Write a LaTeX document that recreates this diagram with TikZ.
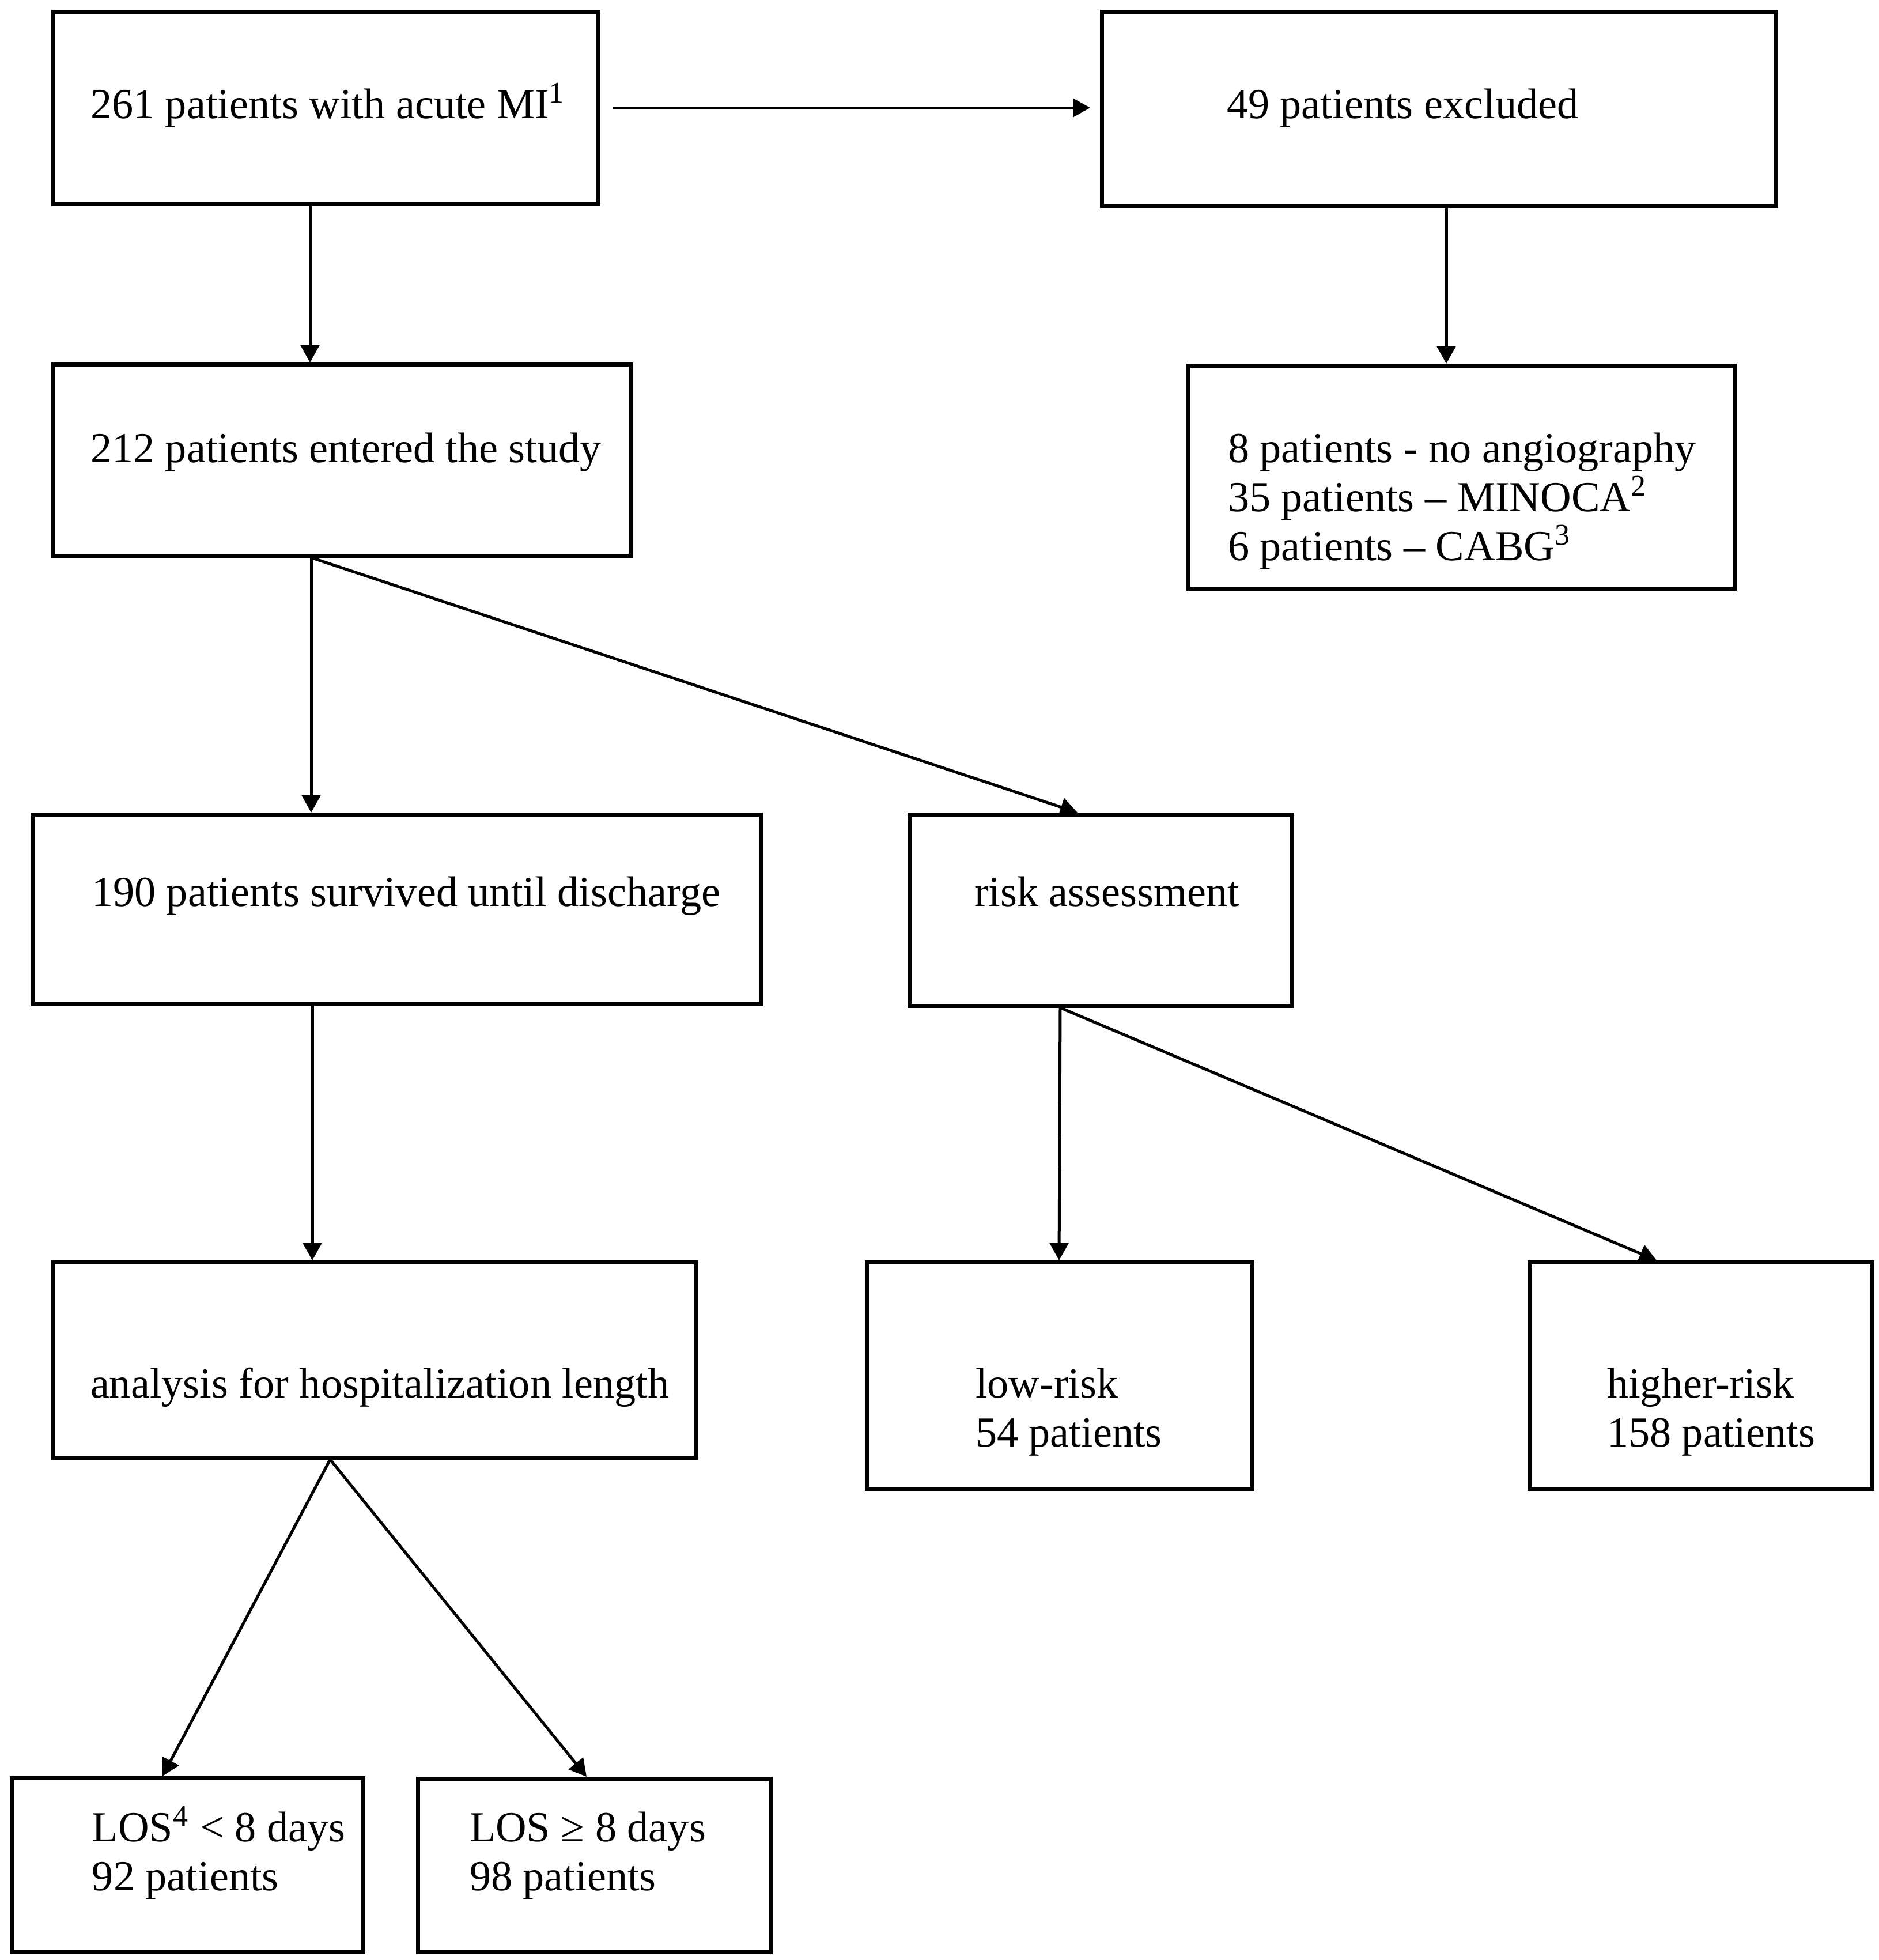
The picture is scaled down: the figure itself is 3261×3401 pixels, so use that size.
\documentclass[tikz,border=0pt]{standalone}
\usepackage{fontspec}
\setmainfont{Liberation Serif}
\usetikzlibrary{arrows.meta,calc}
\begin{document}
\begin{tikzpicture}[x=0.2pt,y=-0.2pt,
 box/.style={draw, line width=1.3pt, inner sep=0pt, anchor=north west},
 txt/.style={anchor=base west, inner sep=0pt, align=left, font=\fontsize{14.85}{17}\selectfont},
 arr/.style={-{Triangle[length=6pt,width=6.4pt]}, line width=1pt}]
\useasboundingbox (0,0) rectangle (3261,3401);
% boxes
\node[box, minimum width=189.2pt, minimum height=66.8pt] (b1) at (89,17) {};
\node[box, minimum width=234pt, minimum height=67.4pt] (b2) at (1909,17) {};
\node[box, minimum width=200.4pt, minimum height=66.4pt] (b3) at (89,629) {};
\node[box, minimum width=189.6pt, minimum height=77.4pt] (b4) at (2059,631) {};
\node[box, minimum width=252.6pt, minimum height=65.6pt] (b5) at (54,1410) {};
\node[box, minimum width=132.8pt, minimum height=66.4pt] (b6) at (1575,1410) {};
\node[box, minimum width=223pt, minimum height=67.8pt] (b7) at (89,2187) {};
\node[box, minimum width=133.8pt, minimum height=78.6pt] (b8) at (1501,2187) {};
\node[box, minimum width=119pt, minimum height=78.6pt] (b9) at (2651,2187) {};
\node[box, minimum width=122pt, minimum height=60.4pt] (b10) at (17,3082) {};
\node[box, minimum width=122.4pt, minimum height=60.2pt] (b11) at (722,3083) {};
% texts (base = baseline of last line)
\node[txt] (t1) at (156,205) {261 patients with acute MI\textsuperscript{1}};
\node[txt] (t2) at (2128,205) {49 patients excluded};
\node[txt] (t3) at (156,802) {212 patients entered the study};
\node[txt] (t4) at (2130,972) {8 patients - no angiography\\35 patients – MINOCA\textsuperscript{2}\\6 patients – CABG\textsuperscript{3}};
\node[txt] (t5) at (158,1572) {190 patients survived until discharge};
\node[txt] (t6) at (1690,1572) {risk assessment};
\node[txt] (t7) at (156,2425) {analysis for hospitalization length};
\node[txt] (t8) at (1692,2510) {low-risk\\54 patients};
\node[txt] (t9) at (2788,2510) {higher-risk\\158 patients};
\node[txt] (t10) at (159,3280) {LOS\textsuperscript{4} < 8 days\\92 patients};
\node[txt] (t11) at (814,3280) {LOS ≥ 8 days\\98 patients};
% connectors
\draw[arr] ($(b1.north east)+(22,170)$) -- ($(b2.north west)+(-17,170)$);
\draw[arr] ($(b1.south west)+(449,0)$) -- ($(b3.north west)+(449,0)$);
\draw[arr] ($(b2.south west)+(601,0)$) -- ($(b4.north west)+(451,0)$);
\draw[arr] ($(b3.south west)+(451,0)$) -- ($(b5.north west)+(486,0)$);
\draw[arr] ($(b3.south west)+(451,0)$) -- ($(b6.north west)+(295,0)$);
\draw[arr] ($(b5.south west)+(488,0)$) -- ($(b7.north west)+(453,0)$);
\draw[arr] ($(b6.south west)+(265,0)$) -- ($(b8.north west)+(337,0)$);
\draw[arr] ($(b6.south west)+(265,0)$) -- ($(b9.north west)+(224,0)$);
\draw[arr] ($(b7.south west)+(484,0)$) -- ($(b10.north west)+(265,0)$);
\draw[arr] ($(b7.south west)+(484,0)$) -- ($(b11.north west)+(296,0)$);
\end{tikzpicture}
\end{document}
